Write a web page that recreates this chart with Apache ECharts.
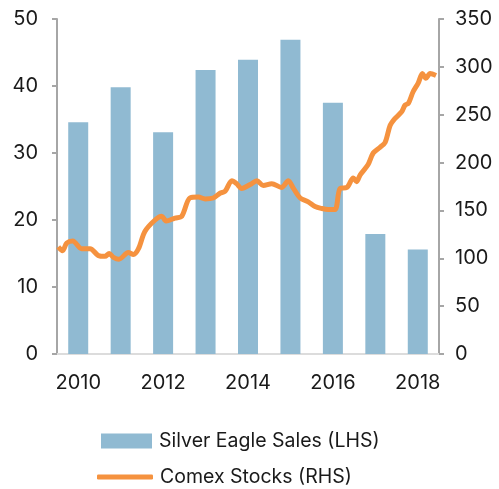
<!DOCTYPE html>
<html>
<head>
<meta charset="utf-8">
<script src="https://cdn.jsdelivr.net/npm/echarts@6/dist/echarts.min.js"></script>
<style>
  html, body { margin: 0; padding: 0; background: #fff; }
  #chart { width: 499px; height: 489px; }
</style>
</head>
<body>
<div id="chart"></div>
<script>
// bars, one per year (LHS)
var years = ['2010', '2011', '2012', '2013', '2014', '2015', '2016', '2017', '2018'];
var eagleSales = [34.6, 39.8, 33.1, 42.4, 43.9, 46.9, 37.5, 17.9, 15.6];

// line (RHS), x as decimal year
var comexDates = [
    2010.03, 2010.13, 2010.23, 2010.37, 2010.58, 2010.78, 2010.97, 2011.13, 2011.23, 2011.33,
    2011.46, 2011.68, 2011.80, 2011.92, 2012.07, 2012.31, 2012.47, 2012.57, 2012.78, 2012.94,
    2013.13, 2013.33, 2013.49, 2013.68, 2013.84, 2013.96, 2014.12, 2014.23, 2014.35, 2014.55,
    2014.71, 2014.86, 2015.06, 2015.29, 2015.45, 2015.57, 2015.73, 2015.92, 2016.08, 2016.24,
    2016.39, 2016.55, 2016.67, 2016.83, 2016.98, 2017.06, 2017.14, 2017.33, 2017.45, 2017.61,
    2017.73, 2017.85, 2017.96, 2018.12, 2018.20, 2018.28, 2018.39, 2018.51, 2018.61, 2018.69,
    2018.79, 2018.93
];
var comexStocks = [
    112, 108, 116, 118, 110, 110, 103, 102, 105, 101,
    99, 106, 104, 110, 128, 140, 144, 139, 142, 144,
    163, 164, 162, 163, 168, 170, 181, 178, 173, 177,
    181, 176, 178, 174, 181, 173, 163, 159, 154, 152,
    151, 151, 173, 174, 184, 180, 187, 198, 210, 216,
    221, 239, 246, 253, 260, 262, 274, 283, 293, 288,
    293, 291
];

var labelFont = 'Inter';
var axisGrey = '#a6a6a6';

var linePoints = [];
for (var i = 0; i < comexDates.length; i++) {
    linePoints.push([comexDates[i], comexStocks[i]]);
}

var chart = echarts.init(document.getElementById('chart'));
chart.setOption({
    animation: false,
    textStyle: { fontFamily: labelFont },
    grid: { left: 57, right: 60, top: 19, bottom: 135, containLabel: false },
    xAxis: [
        {
            type: 'category',
            data: years,
            axisLine: { show: false },
            axisTick: { show: false },
            axisLabel: { interval: 1, fontSize: 20, color: '#1a1a1a', margin: 19, fontFamily: labelFont }
        },
        {
            type: 'value',
            min: 2010,
            max: 2019,
            position: 'top',
            axisLine: { show: true, lineStyle: { color: '#dcdcdc', width: 2 } },
            axisTick: { show: false },
            axisLabel: { show: false },
            splitLine: { show: false }
        }
    ],
    yAxis: [
        {
            type: 'value',
            min: 0,
            max: 50,
            interval: 10,
            axisLine: { show: true, lineStyle: { color: axisGrey, width: 2 } },
            axisTick: { show: true, length: 5, lineStyle: { color: axisGrey, width: 2 } },
            axisLabel: { fontSize: 20, color: '#1a1a1a', margin: 19, fontFamily: labelFont },
            splitLine: { show: false }
        },
        {
            type: 'value',
            min: 0,
            max: 350,
            interval: 50,
            position: 'right',
            axisLine: { show: true, lineStyle: { color: axisGrey, width: 2 } },
            axisTick: { show: true, length: 5, lineStyle: { color: axisGrey, width: 2 } },
            axisLabel: { fontSize: 20, color: '#1a1a1a', margin: 16, fontFamily: labelFont },
            splitLine: { show: false }
        }
    ],
    legend: [
        {
            left: 96,
            top: 426,
            icon: 'rect',
            itemWidth: 51,
            itemHeight: 15,
            textStyle: { fontSize: 19.5, color: '#1a1a1a', fontFamily: labelFont, padding: [0, 0, 0, 2] },
            data: ['Silver Eagle Sales (LHS)']
        },
        {
            left: 92,
            top: 462,
            icon: 'roundRect',
            itemWidth: 56,
            itemHeight: 5,
            textStyle: { fontSize: 19.5, color: '#1a1a1a', fontFamily: labelFont, padding: [0, 0, 0, 2] },
            data: ['Comex Stocks (RHS)']
        }
    ],
    series: [
        {
            name: 'Silver Eagle Sales (LHS)',
            type: 'bar',
            xAxisIndex: 0,
            yAxisIndex: 0,
            barWidth: 20,
            itemStyle: { color: '#90bad2' },
            data: eagleSales
        },
        {
            name: 'Comex Stocks (RHS)',
            type: 'line',
            xAxisIndex: 1,
            yAxisIndex: 1,
            symbol: 'none',
            smooth: 0.3,
            lineStyle: { color: '#f5923f', width: 5 },
            itemStyle: { color: '#f5923f' },
            data: linePoints
        }
    ]
});
</script>
</body>
</html>
